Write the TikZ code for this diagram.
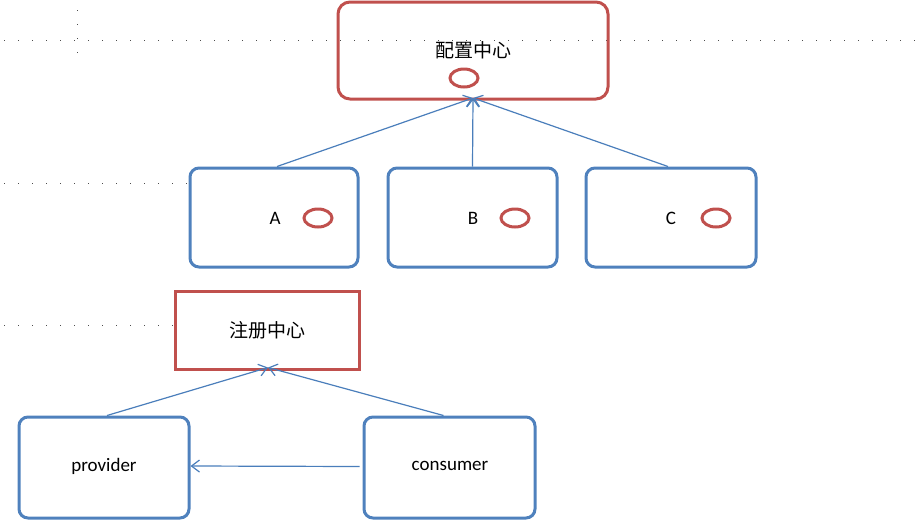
\documentclass[tikz,border=0pt]{standalone}
\usepackage{fontspec}
\setmainfont{Carlito}
\newfontfamily\cjk{Noto Sans CJK SC}
\usetikzlibrary{arrows.meta,shapes.geometric}
\definecolor{bb}{HTML}{4F81BD}
\definecolor{rr}{HTML}{C0504D}
\definecolor{ln}{HTML}{4A7EBB}
\begin{document}
\begin{tikzpicture}[x=1pt,y=-1pt,
  bbox/.style={draw=bb,line width=3pt,rounded corners=9pt},
  rbox/.style={draw=rr,line width=3pt},
  oval/.style={draw=rr,line width=3pt,ellipse,minimum width=28pt,minimum height=18pt,inner sep=0pt},
  lbl/.style={font=\fontsize{19}{22}\selectfont},
  con/.style={draw=ln,line width=1.2pt,-{Straight Barb[length=8pt,width=12pt]}},
  grid/.style={draw=black!70,line width=1pt,dash pattern=on 1pt off 13pt}]
\useasboundingbox (0,0) rectangle (921,528);
\draw[grid] (4,40) -- (921,40);
\draw[grid] (4,183) -- (190,183);
\draw[grid] (4,325) -- (175,325);
\draw[grid] (77,10) -- (77,60);
\node[rbox,rounded corners=12pt,minimum width=270pt,minimum height=97pt] (cfg) at (473,50.5) {};
\node[lbl] (cfgt) at (473,50) {\cjk 配置中心};
\node[oval] (o0) at (464,78) {};
\node[bbox,minimum width=168pt,minimum height=99pt] (A) at (274,217.5) {};
\node[bbox,minimum width=169pt,minimum height=99pt] (B) at (472.5,217.5) {};
\node[bbox,minimum width=170pt,minimum height=99pt] (C) at (671,217.5) {};
\node[lbl] (At) at (275,218) {A};
\node[lbl] (Bt) at (473,218) {B};
\node[lbl] (Ct) at (671,218) {C};
\node[oval] (oA) at (318,218) {};
\node[oval] (oB) at (515,218) {};
\node[oval] (oC) at (716,218) {};
\node[rbox,minimum width=184pt,minimum height=78pt] (reg) at (267,330) {};
\node[lbl] (regt) at (267,330) {\cjk 注册中心};
\node[bbox,minimum width=170pt,minimum height=101pt] (prov) at (104,467.5) {};
\node[bbox,minimum width=171pt,minimum height=101pt] (cons) at (449.5,467.5) {};
\node[lbl] (provt) at (104,466) {provider};
\node[lbl] (const) at (450,466) {consumer};
\coordinate (tgt) at (473,98);
\coordinate (rtgt) at (268,367.5);
\draw[con] (A.north) ++(3,0) -- (tgt);
\draw[con] (B.north) -- (tgt);
\draw[con] (C.north) ++(-3,0) -- (tgt);
\draw[con] (prov.north) ++(3,0) -- (rtgt);
\draw[con] (cons.north) ++(-6,0) -- (rtgt);
\draw[con] (cons.west) ++(-3,-1) -- (190.5,466);
\end{tikzpicture}
\end{document}
